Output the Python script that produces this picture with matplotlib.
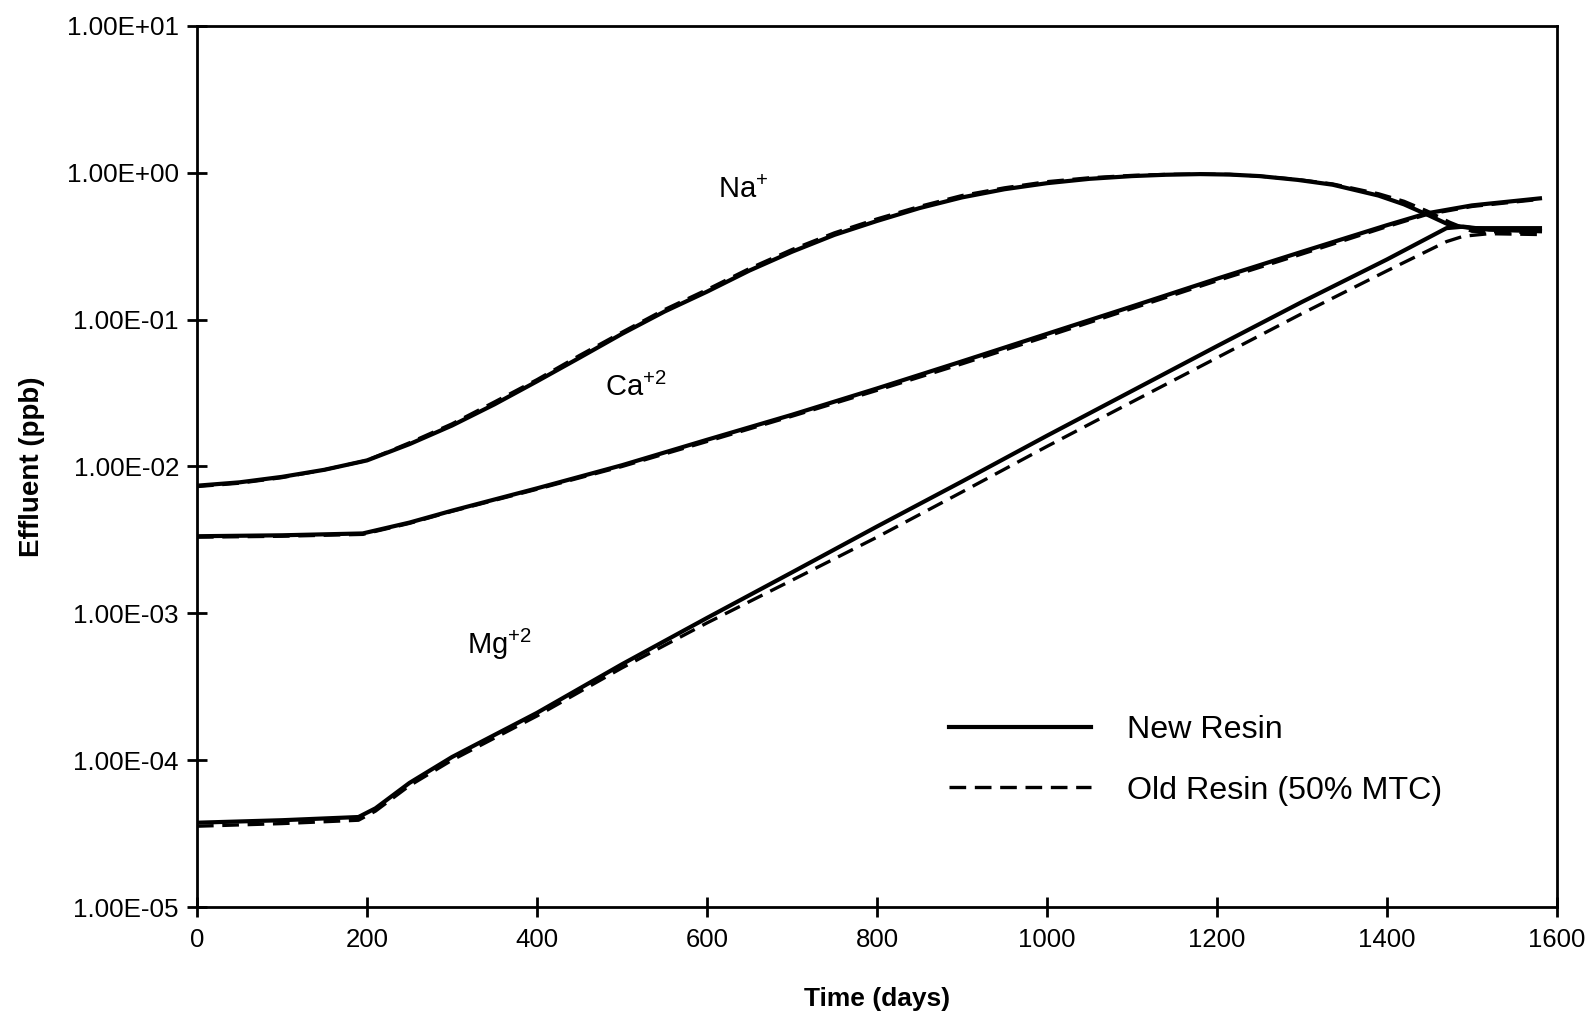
import numpy as np
import matplotlib
matplotlib.use('Agg')
import matplotlib.pyplot as plt
from matplotlib.ticker import FuncFormatter, FixedLocator

plt.rcParams['font.family'] = ['Liberation Sans', 'DejaVu Sans']
plt.rcParams['mathtext.default'] = 'regular'

# Na+ curves
na_days = [0, 50, 100, 150, 200, 250, 300, 350, 400, 450, 500, 550, 600, 650, 700, 750, 800, 850, 900, 950,
           1000, 1050, 1100, 1140, 1180, 1215, 1250, 1295, 1336, 1390, 1420, 1447, 1474, 1500, 1580]
na_new = [7.4e-3, 7.8e-3, 8.5e-3, 9.5e-3, 1.1e-2, 1.42e-2, 1.9e-2, 2.65e-2, 3.8e-2, 5.5e-2, 8.0e-2, 0.1135, 0.155, 0.216, 0.29, 0.378, 0.47, 0.575, 0.68, 0.773,
          0.85, 0.91, 0.95, 0.97, 0.98, 0.973, 0.95, 0.895, 0.83, 0.70, 0.61, 0.52, 0.44, 0.42, 0.42]
na_old = [7.3e-3, 7.7e-3, 8.4e-3, 9.5e-3, 1.1e-2, 1.45e-2, 1.95e-2, 2.75e-2, 3.9e-2, 5.7e-2, 8.2e-2, 0.117, 0.16, 0.223, 0.30, 0.39, 0.485, 0.59, 0.70, 0.79,
          0.87, 0.925, 0.96, 0.975, 0.98, 0.975, 0.95, 0.90, 0.84, 0.72, 0.64, 0.55, 0.46, 0.40, 0.39]

# Ca+2 curves
ca_days = [0, 100, 195, 250, 300, 400, 500, 600, 700, 800, 900, 1000, 1100, 1200, 1300, 1400, 1447, 1500, 1580]
ca_new = [3.35e-3, 3.4e-3, 3.5e-3, 4.15e-3, 5.0e-3, 7.1e-3, 0.0102, 0.0152, 0.0225, 0.034, 0.052, 0.08, 0.123, 0.19, 0.29, 0.44, 0.53, 0.60, 0.67]
ca_old = [3.3e-3, 3.35e-3, 3.45e-3, 4.1e-3, 4.95e-3, 7.0e-3, 0.0100, 0.0148, 0.0220, 0.033, 0.050, 0.077, 0.119, 0.184, 0.28, 0.43, 0.52, 0.59, 0.66]

# Mg+2 curves
mg_days = [0, 100, 190, 210, 250, 300, 400, 500, 600, 700, 800, 900, 1000, 1100, 1200, 1300, 1400, 1470, 1490, 1520, 1580]
mg_new = [3.75e-5, 3.9e-5, 4.1e-5, 4.7e-5, 7.0e-5, 1.05e-4, 2.1e-4, 4.5e-4, 9.3e-4, 1.9e-3, 3.9e-3, 7.9e-3, 0.0162, 0.0327, 0.066, 0.132, 0.257, 0.42, 0.43, 0.41, 0.40]
mg_old = [3.55e-5, 3.7e-5, 3.9e-5, 4.5e-5, 6.7e-5, 1.0e-4, 2.0e-4, 4.25e-4, 8.6e-4, 1.68e-3, 3.3e-3, 6.7e-3, 0.0137, 0.0275, 0.055, 0.11, 0.215, 0.34, 0.37, 0.385, 0.38]

yticks = [1e-5, 1e-4, 1e-3, 1e-2, 1e-1, 1e0, 1e1]
xticks = [0, 200, 400, 600, 800, 1000, 1200, 1400, 1600]

fig = plt.figure(figsize=(15.91, 10.15), dpi=100)
ax = fig.add_axes([0.1238, 0.1064, 0.8548, 0.868])

lw_s = 3.0
lw_d = 2.4
dash = (5, 2.6)
for d, yn, yo in [(na_days, na_new, na_old), (ca_days, ca_new, ca_old), (mg_days, mg_new, mg_old)]:
    ax.plot(d, yo, color='black', lw=lw_d, dashes=dash)
    ax.plot(d, yn, color='black', lw=lw_s)

ax.set_yscale('log')
ax.set_xlim(0, 1600)
ax.set_ylim(1e-5, 1e1)
ax.yaxis.set_major_locator(FixedLocator(yticks))
ax.yaxis.set_minor_locator(FixedLocator([]))
ax.yaxis.set_major_formatter(FuncFormatter(lambda v, p: f'{v:.2E}'))
ax.set_xticks(xticks)

for s in ax.spines.values():
    s.set_linewidth(2.0)
ax.tick_params(axis='x', direction='inout', length=14, width=2, labelsize=18.5, pad=8)
ax.tick_params(axis='y', direction='inout', length=14, width=2, labelsize=18.7, pad=6)

ax.set_xlabel('Time (days)', fontsize=19, fontweight='bold', labelpad=25)
ax.set_ylabel('Effluent (ppb)', fontsize=20, fontweight='bold', labelpad=16)

ax.text(613, 0.67, 'Na$^{+}$', fontsize=21)
ax.text(480, 0.030, 'Ca$^{+2}$', fontsize=21)
ax.text(318, 5.3e-4, 'Mg$^{+2}$', fontsize=21)

# legend handles
h1, = ax.plot([], [], color='black', lw=lw_s, label='New Resin')
h2, = ax.plot([], [], color='black', lw=lw_d, dashes=dash, label='Old Resin (50% MTC)')
ax.legend(handles=[h1, h2], loc='upper left', bbox_to_anchor=(0.553, 0.218),
          frameon=False, fontsize=23.2, handlelength=4.4, handletextpad=1.12,
          labelspacing=0.95, borderpad=0, borderaxespad=0)

fig.savefig('out.png', dpi=100)
